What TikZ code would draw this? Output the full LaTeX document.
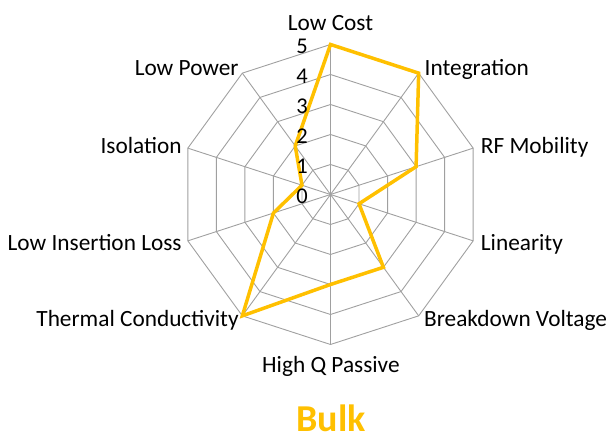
\documentclass[tikz,border=0pt]{standalone}
\usepackage{fontspec}
\setmainfont{Carlito}
\definecolor{gold}{HTML}{FFC000}
\definecolor{gridc}{HTML}{A0A0A0}
\begin{document}
\begin{tikzpicture}[x=1pt,y=1pt,
  lbl/.style={inner sep=0pt, font=\fontsize{23.3}{27}\selectfont},
  num/.style={inner sep=0pt, anchor=east, font=\fontsize{22.5}{25}\selectfont},
  gridline/.style={draw=gridc, line width=0.9pt},
  series/.style={draw=gold, line width=3.5pt},
  title/.style={inner sep=0pt, anchor=base, text=gold, font=\fontsize{38}{42}\selectfont\bfseries}]
\useasboundingbox (0,0) rectangle (611,438);
\coordinate (O) at (330.5,243.5);
\begin{scope}[shift={(O)}, x=30pt, y=30pt]
  % rings
  \foreach \r in {1,...,5}
    \draw[gridline] (90:\r) \foreach \a in {126,162,...,414} { -- (\a:\r) } -- cycle;
  % outer vertices and spokes
  \foreach \i in {0,...,9} {
    \coordinate (v\i) at ({90-36*\i}:5);
    \draw[gridline] (O) -- (v\i);
  }
  % data points
  \foreach \i/\v in {0/5,1/5,2/3,3/1,4/3,5/3,6/5,7/2,8/1,9/2}
    \coordinate (p\i) at ({90-36*\i}:\v);
\end{scope}
\draw[series] (p0) -- (p1) -- (p2) -- (p3) -- (p4) -- (p5) -- (p6) -- (p7) -- (p8) -- (p9) -- cycle;
% axis numbers
\foreach \k in {0,...,5}
  \node[num] (n\k) at (308,{243.5+30*\k-2}) {\k};
% category labels
\node[lbl, anchor=base] (lc) at (330.5,407) {Low Cost};
\node[lbl, anchor=base west] (ig) at (424.5,362) {Integration};
\node[lbl, anchor=base west] (rf) at (480.7,284) {RF Mobility};
\node[lbl, anchor=base west] (li) at (480.7,187) {Linearity};
\node[lbl, anchor=base west] (bv) at (424,111.3) {Breakdown Voltage};
\node[lbl, anchor=base] (hq) at (330.9,65) {High Q Passive};
\node[lbl, anchor=base east] (tc) at (238.8,111.3) {Thermal Conductivity};
\node[lbl, anchor=base east] (il) at (181.8,187) {Low Insertion Loss};
\node[lbl, anchor=base east] (is) at (181.8,284) {Isolation};
\node[lbl, anchor=base east] (lp) at (238.8,362) {Low Power};
\node[title] (bulk) at (331,6.5) {Bulk};
\end{tikzpicture}
\end{document}
